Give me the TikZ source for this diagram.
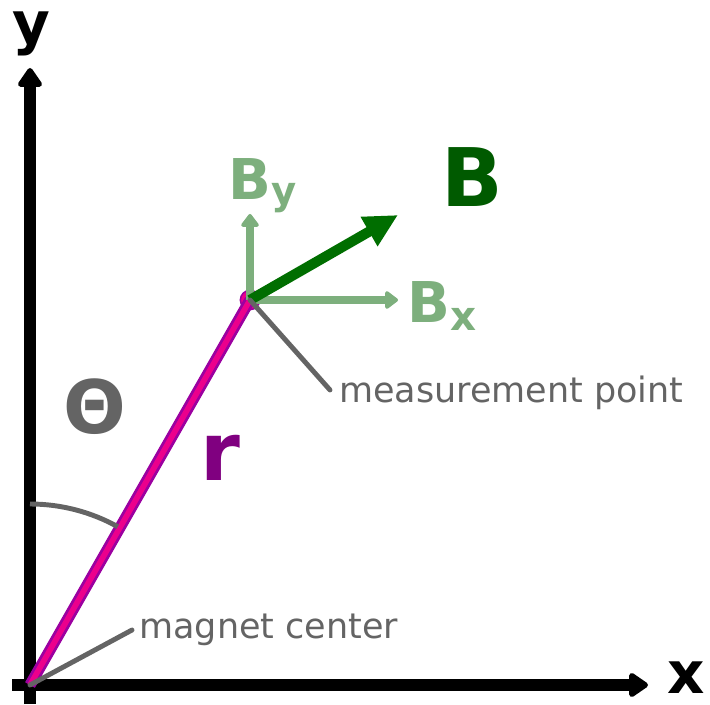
\documentclass[tikz,border=0pt]{standalone}
\usepackage{fontspec}
\setmainfont{DejaVu Sans}
\usetikzlibrary{arrows.meta}

\definecolor{bdark}{RGB}{0,110,0}
\definecolor{btext}{RGB}{0,90,0}
\definecolor{blight}{RGB}{125,175,125}
\definecolor{leadgray}{RGB}{100,100,100}
\definecolor{rpurple}{RGB}{128,0,128}
\definecolor{rline}{RGB}{155,0,160}

\begin{document}
\begin{tikzpicture}[
  x=0.02cm, y=0.02cm,
  axis/.style={line width=6.8pt, -{Triangle[round, length=12pt, width=15.5pt]}},
  radius line/.style={draw=rline, double=magenta, line width=1.6pt, double distance=3.2pt},
  bvec/.style={bdark, line width=5.8pt, -{Triangle[length=19pt, width=18pt]}},
  bcomp/.style={blight, line width=4.4pt, -{Triangle[round, length=8pt, width=11.5pt]}},
  leader/.style={leadgray, line width=2.8pt, line cap=round},
  tag/.style={font=\fontsize{19.9}{20}\selectfont, text=leadgray, inner sep=0pt, anchor=base west},
  big/.style={font=\fontsize{#1}{#1}\selectfont\bfseries, inner sep=0pt, anchor=base west},
]
\useasboundingbox (0,0) rectangle (710,704);

% === Axes ===
\coordinate (O) at (30,19);
\coordinate (ybot) at (30,0);
\coordinate (ytip) at (30,636);
\coordinate (xbeg) at (12,19);
\coordinate (xtip) at (648,19);
\draw[axis] (ybot) -- (ytip);
\draw[axis] (xbeg) -- (xtip);
\node[big=33] (ylab) at (12,660) {y};
\node[big=33, anchor=base east] (xlab) at (705,11) {x};

% === Radius and angle ===
\node[circle, draw=rline, double=magenta, line width=0.9pt, double distance=2pt,
  minimum size=8pt, inner sep=0pt] (P) at (250,404) {};
\draw[radius line] (O) -- (P.center);
\draw[leadgray, line width=2.8pt] (O) ++(0,181) arc[start angle=90, end angle=61, radius=181];
\node[big=42, text=leadgray] (theta) at (63,271) {Θ};
\node[big=46, text=rpurple] (r) at (200,224) {r};

% === Field vector and components ===
\coordinate (bytip) at (250,490);
\coordinate (bxtip) at (398,404);
\coordinate (btip) at (398,489);
\draw[bcomp] (P.center) -- (bytip);
\draw[bcomp] (P.center) -- (bxtip);
\draw[bvec] (P.center) -- (btip);
\node[big=46, text=btext] (Blab) at (441,497) {B};
\node[big=32, text=blight] (Bylab) at (228,504) {B\raisebox{-2.3pt}{\fontsize{22}{22}\selectfont y}};
\node[big=32, text=blight] (Bxlab) at (407,381) {B\raisebox{-4.5pt}{\fontsize{23}{23}\selectfont x}};

% === Leader labels ===
\coordinate (mp) at (330,314);
\coordinate (mc) at (132,74);
\draw[leader] (P.center) -- (mp);
\draw[leader] (O) -- (mc);
\node[tag] (mptext) at (339,301) {measurement point};
\node[tag] (mctext) at (139,66) {magnet center};

\end{tikzpicture}
\end{document}
